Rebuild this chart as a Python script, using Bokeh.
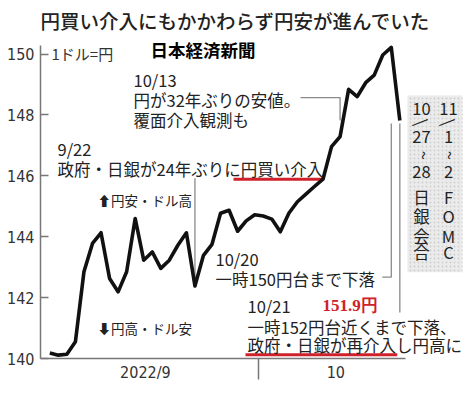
from bokeh.plotting import figure
from bokeh.models import FixedTicker, Label, BoxAnnotation, Range1d
from bokeh.embed import file_html
from bokeh.resources import INLINE

# ---- data (USD/JPY, daily) ----
values = [140.18, 140.11, 140.14, 140.55, 142.85, 143.78, 144.13, 142.63, 142.19, 142.85,
          144.60, 143.23, 143.50, 142.96, 143.23, 143.72, 144.13, 142.38, 143.39, 143.75,
          144.77, 144.87, 144.18, 144.52, 144.72, 144.68, 144.58, 144.16, 144.77, 145.15,
          145.40, 145.65, 145.89, 146.96, 147.29, 148.84, 148.60, 149.06, 149.31, 149.97,
          150.22, 147.82]
days = list(range(len(values)))

y_ticks = [140, 142, 144, 146, 148, 150]
month_labels = ["2022/9", "10"]
month_label_pos = [11.2, 33.5]
month_boundary = 24.5

i_922 = 17     # 9/22 intervention
i_1013 = 34    # 10/13
i_1020 = 40    # 10/20
i_1021 = 41    # 10/21
i_redend = 32

col1 = ["10", "/", "27", "~", "28", "日", "銀", "会", "合"]
col2 = ["11", "/", "1", "~", "2", "F", "O", "M", "C"]

JP = "Noto Sans CJK JP"
JP_MED = "Noto Sans CJK JP Medium, Noto Sans CJK JP"
NARROW = "Liberation Sans Narrow, DejaVu Sans Condensed, Liberation Sans, sans-serif"
INK = "#222222"
RED = "#d0202a"
GRAY = "#8a8a8a"

p = figure(width=476, height=411, output_backend="svg", toolbar_location=None,
           x_range=Range1d(-1.09, 49.98), y_range=Range1d(140, 151.76),
           min_border_left=40, min_border_right=0, min_border_top=0,
           min_border_bottom=53, title=None)
p.outline_line_color = None
p.xgrid.visible = False
p.ygrid.visible = False
p.background_fill_color = "white"
p.border_fill_color = "white"

# y axis
p.yaxis.ticker = FixedTicker(ticks=y_ticks)
p.yaxis.bounds = (140, 150.29)
p.yaxis.major_tick_in = 8
p.yaxis.major_tick_out = 0
p.yaxis.minor_tick_in = 0
p.yaxis.minor_tick_out = 0
p.yaxis.axis_line_color = "#777777"
p.yaxis.axis_line_width = 1.5
p.yaxis.major_tick_line_color = "#777777"
p.yaxis.major_tick_line_width = 1.3
p.yaxis.major_label_text_font = NARROW
p.yaxis.major_label_text_font_size = "16px"
p.yaxis.major_label_text_color = "#333333"
p.yaxis.major_label_standoff = 6

# x axis
p.xaxis.ticker = FixedTicker(ticks=month_label_pos, minor_ticks=[month_boundary])
p.xaxis.major_label_overrides = {month_label_pos[0]: month_labels[0],
                                 month_label_pos[1]: month_labels[1]}
p.xaxis.bounds = (-1.09, 41.64)
p.xaxis.major_tick_in = 0
p.xaxis.major_tick_out = 0
p.xaxis.minor_tick_in = 0
p.xaxis.minor_tick_out = 21
p.xaxis.minor_tick_line_color = "#777777"
p.xaxis.minor_tick_line_width = 1.5
p.xaxis.axis_line_color = "#777777"
p.xaxis.axis_line_width = 1.5
p.xaxis.major_label_text_font = NARROW
p.xaxis.major_label_text_font_size = "16px"
p.xaxis.major_label_text_color = "#333333"
p.xaxis.major_label_standoff = -17

# grey box for the meetings
p.add_layout(BoxAnnotation(left=41.9, right=48.34, bottom=142.83, top=148.64,
                           fill_color="#ebebeb", fill_alpha=1.0, line_color=None,
                           hatch_pattern="dot", hatch_color="#d0d0d0", hatch_scale=4,
                           hatch_weight=1))

# brackets
p.line([i_922, i_922], [145.92, values[i_922] + 0.05], line_color=GRAY, line_width=1.3)
p.line([29.37, i_1013, i_1013], [148.57, 148.57, 147.82], line_color=GRAY, line_width=1.3)
p.line([38.94, i_1020, i_1020], [142.67, 142.67, 147.72], line_color=GRAY, line_width=1.3)
p.line([i_1021, i_1021], [147.72, 141.51], line_color=GRAY, line_width=1.3)

# red underlines
p.line([21.52, i_redend], [values[i_redend], values[i_redend]], line_color=RED, line_width=3)
p.line([22.92, 40.7], [140.12, 140.12], line_color=RED, line_width=3)

# main line
p.line(days, values, line_color="#111111", line_width=3.6, line_join="round")


def lab(x, y, text, size="16.5px", color=INK, font=JP, style="normal",
        align="left", angle=0.0):
    p.add_layout(Label(x=x, y=y, text=text, text_font=font, text_font_size=size,
                       text_color=color, text_font_style=style, text_align=align,
                       text_baseline="middle", angle=angle))


lab(21.75, 151.09, "円買い介入にもかかわらず円安が進んでいた", size="19.5px",
    font=JP_MED, align="center")
lab(11.80, 150.15, "日本経済新聞", size="17.5px", color="#000000", style="bold")
lab(0.20, 150.01, "1ドル=円", size="15px", color="#333333")

lab(9.80, 149.14, "10/13")
lab(9.80, 148.48, "円が32年ぶりの安値。")
lab(9.80, 147.84, "覆面介入観測も")

lab(0.90, 146.88, "9/22")
lab(0.90, 146.23, "政府・日銀が24年ぶりに円買い介入")

lab(5.59, 145.21, "⬆円安・ドル高", size="13.5px")
lab(5.59, 141.00, "⬇円高・ドル安", size="13.5px")

lab(19.41, 143.28, "10/20")
lab(19.41, 142.62, "一時150円台まで下落")

lab(23.16, 141.72, "10/21")
lab(31.94, 141.74, "151.9円", size="17px", color=RED,
    font="Liberation Serif, DejaVu Serif, serif", style="bold")
lab(23.16, 141.03, "一時152円台近くまで下落、")
lab(23.16, 140.43, "政府・日銀が再介入し円高に")

rows = [148.21, 147.79, 147.27, 146.67, 146.12, 145.30, 144.67, 144.04, 143.49]
for cx, col in ((43.54, col1), (46.70, col2)):
    for ry, t in zip(rows, col):
        ang = 0.0
        if t == "/":
            ang = -0.9
        elif t == "~":
            ang = 1.5708
        lab(cx, ry, t, size="16.5px", align="center", angle=ang)

open("out.html", "w").write(file_html(p, INLINE))
